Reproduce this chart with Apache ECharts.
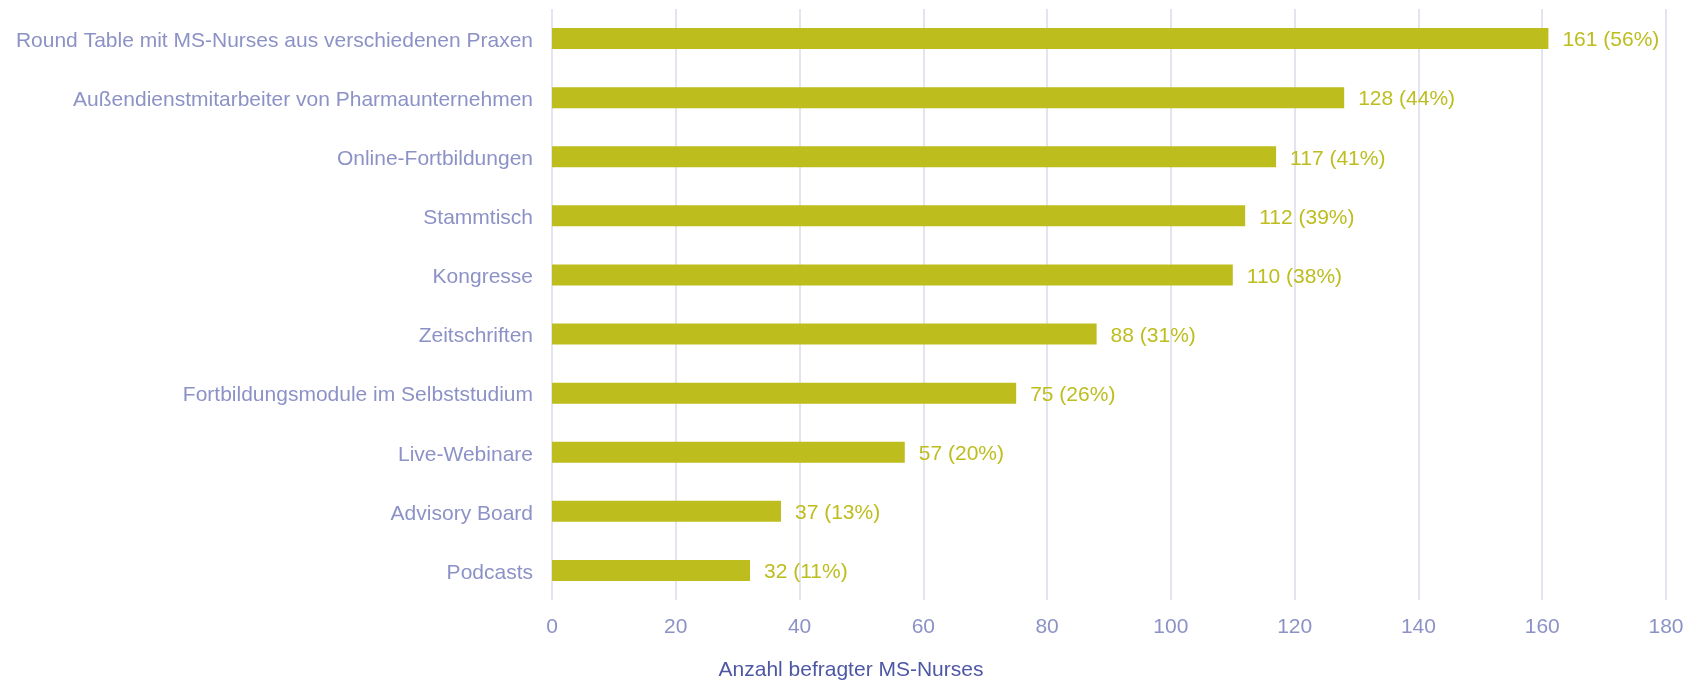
<!DOCTYPE html>
<html>
<head>
<meta charset="utf-8">
<script src="https://cdn.jsdelivr.net/npm/echarts@6/dist/echarts.min.js"></script>
<style>
  html, body { margin: 0; padding: 0; background: #fff; }
  #chart { width: 1702px; height: 680px; }
</style>
</head>
<body>
<div id="chart"></div>
<script>
// Daten (von unten nach oben, wie ECharts die Kategorieachse zeichnet)
const categories = [
  'Podcasts',
  'Advisory Board',
  'Live-Webinare',
  'Fortbildungsmodule im Selbststudium',
  'Zeitschriften',
  'Kongresse',
  'Stammtisch',
  'Online-Fortbildungen',
  'Außendienstmitarbeiter von Pharmaunternehmen',
  'Round Table mit MS-Nurses aus verschiedenen Praxen'
]
const counts = [32, 37, 57, 75, 88, 110, 112, 117, 128, 161]
const percents = [11, 13, 20, 26, 31, 38, 39, 41, 44, 56]
const xTicks = [0, 20, 40, 60, 80, 100, 120, 140, 160, 180]
const axisTitle = 'Anzahl befragter MS-Nurses'

const barColor = '#bdbd1e'
const labelColor = '#8c92c6'
const font = '"Liberation Sans"'

const chart = echarts.init(document.getElementById('chart'))

chart.setOption({
  animation: false,
  textStyle: { fontFamily: font },
  title: {
    text: axisTitle,
    left: 'center',
    top: 655,
    textStyle: { fontSize: 21, fontWeight: 'normal', color: '#4d57a3', fontFamily: font }
  },
  grid: { left: 552, right: 36, top: 9, bottom: 80 },
  xAxis: {
    type: 'value',
    min: xTicks[0],
    max: xTicks[xTicks.length - 1],
    interval: 20,
    axisLine: { show: false },
    axisTick: { show: false },
    splitLine: { lineStyle: { color: '#e4e4f0', width: 2 } },
    axisLabel: { color: labelColor, fontSize: 21, margin: 17, fontFamily: font }
  },
  yAxis: {
    type: 'category',
    data: categories,
    axisLine: { show: false },
    axisTick: { show: false },
    axisLabel: {
      color: labelColor,
      fontSize: 21,
      margin: 19,
      fontFamily: font,
      formatter: v => '{a|' + v + '}',
      rich: { a: { color: labelColor, fontSize: 21, fontFamily: font, padding: [5, 0, 0, 0] } }
    }
  },
  series: [{
    type: 'bar',
    data: counts,
    barWidth: 21,
    itemStyle: { color: barColor },
    label: {
      show: true,
      position: 'right',
      distance: 14,
      offset: [0, 2],
      color: barColor,
      fontSize: 21,
      fontFamily: font,
      formatter: p => p.value + ' (' + percents[p.dataIndex] + '%)'
    }
  }]
})
</script>
</body>
</html>
